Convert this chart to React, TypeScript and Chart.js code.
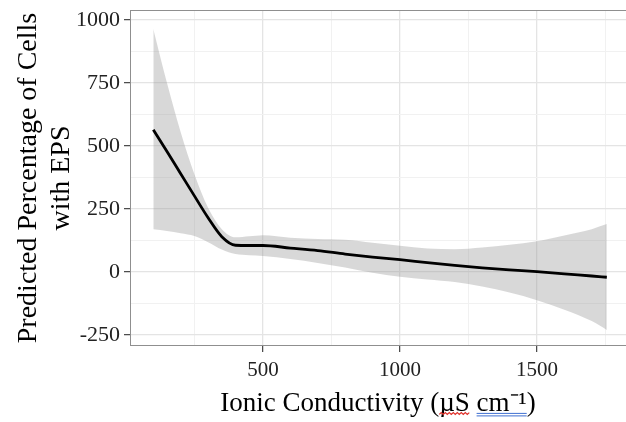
import React, { useEffect, useRef } from "react";
import { Chart, registerables } from "chart.js";

Chart.register(...registerables);

// ---- data ----
const conductivity = [100, 150, 200, 250, 300, 350, 400, 450, 500, 600, 700, 800, 900, 1000, 1100, 1200, 1300, 1400, 1500, 1600, 1700, 1755];
const fitted = [565, 478, 390, 302, 215, 140, 106, 105, 105, 95, 85, 71, 59, 49, 37, 26, 16, 8, 1, -8, -16, -21];
const upperCI = [965, 750, 555, 388, 255, 170, 138, 142, 146, 136, 131, 128, 116, 104, 93, 90, 97, 108, 122, 145, 170, 190];
const lowerCI = [170, 163, 154, 143, 118, 89, 71, 66, 63, 51, 36, 18, -3, -19, -30, -40, -58, -82, -112, -150, -195, -230];

const xTicks = [250, 500, 750, 1000, 1250, 1500, 1750];
const xMajor = [500, 1000, 1500];
const yTicks = [-250, -125, 0, 125, 250, 375, 500, 625, 750, 875, 1000];
const yMajor = [-250, 0, 250, 500, 750, 1000];

const X_TITLE = "Ionic Conductivity (µS cm⁻¹)";
const Y_TITLE = ["Predicted Percentage of Cells", "with EPS"];

const FONT = '"Liberation Serif", "Times New Roman", serif';
const X_TITLE_SIZE = 27;
const X_TITLE_LH = 1.2;
const X_TITLE_PAD_BOTTOM = 2;

const pts = (ys: number[]) => conductivity.map((x, i) => ({ x, y: ys[i] }));

const borderPlugin = {
  id: "panelBorder",
  afterDatasetsDraw(chart: any) {
    const { ctx, chartArea } = chart;
    ctx.save();
    ctx.strokeStyle = "#8f8f8f";
    ctx.lineWidth = 1;
    ctx.strokeRect(chartArea.left + 0.5, chartArea.top + 0.5, chartArea.right - chartArea.left, chartArea.bottom - chartArea.top - 1);
    ctx.restore();
  },
};

const spellMarksPlugin = {
  id: "spellMarks",
  afterDraw(chart: any) {
    const sc = chart.scales.x;
    const ctx = chart.ctx as CanvasRenderingContext2D;
    ctx.save();
    ctx.font = `${X_TITLE_SIZE}px ${FONT}`;
    ctx.textBaseline = "middle";
    const full = ctx.measureText(X_TITLE).width;
    const cx = (sc.left + sc.right) / 2;
    const start = cx - full / 2;
    const muStart = start + ctx.measureText("Ionic Conductivity (").width;
    const muEnd = muStart + ctx.measureText("µS").width;
    const cmStart = start + ctx.measureText("Ionic Conductivity (µS ").width;
    const cmEnd = cmStart + ctx.measureText("cm⁻¹").width;
    const lh = X_TITLE_SIZE * X_TITLE_LH;
    const titleY = sc.bottom - (lh / 2 + X_TITLE_PAD_BOTTOM);
    const base = titleY + ctx.measureText("I").actualBoundingBoxDescent;
    // red wavy line
    ctx.strokeStyle = "#e0302a";
    ctx.lineWidth = 1.2;
    ctx.beginPath();
    const yw = base + 3.5;
    let up = true;
    ctx.moveTo(muStart, yw);
    for (let x = muStart + 2; x <= muEnd + 0.1; x += 2) {
      ctx.lineTo(x, up ? yw - 1.8 : yw);
      up = !up;
    }
    ctx.stroke();
    // blue double underline
    ctx.strokeStyle = "#3f6fd0";
    ctx.lineWidth = 1;
    ctx.beginPath();
    ctx.moveTo(cmStart, base + 2.5);
    ctx.lineTo(cmEnd, base + 2.5);
    ctx.moveTo(cmStart, base + 5);
    ctx.lineTo(cmEnd, base + 5);
    ctx.stroke();
    ctx.restore();
  },
};

export default function App() {
  const ref = useRef<HTMLCanvasElement | null>(null);

  useEffect(() => {
    if (!ref.current) return;
    const chart = new Chart(ref.current, {
      type: "line",
      data: {
        datasets: [
          {
            label: "fit",
            data: pts(fitted),
            borderWidth: 2.8,
            borderColor: "#000000",
            pointRadius: 0,
            fill: false,
            cubicInterpolationMode: "monotone",
            order: 0,
          },
          {
            label: "upper",
            data: pts(upperCI),
            borderWidth: 0,
            borderColor: "rgba(0,0,0,0)",
            backgroundColor: "rgba(153,153,153,0.38)",
            pointRadius: 0,
            fill: "+1",
            cubicInterpolationMode: "monotone",
            order: 1,
          },
          {
            label: "lower",
            data: pts(lowerCI),
            borderWidth: 0,
            borderColor: "rgba(0,0,0,0)",
            backgroundColor: "rgba(153,153,153,0.38)",
            pointRadius: 0,
            fill: false,
            cubicInterpolationMode: "monotone",
            order: 2,
          },
        ],
      },
      options: {
        responsive: false,
        animation: false,
        layout: { padding: { top: 10, right: 0, left: 0, bottom: 0 } },
        plugins: {
          legend: { display: false },
          tooltip: { enabled: false },
        },
        scales: {
          x: {
            type: "linear",
            min: 15,
            max: 1825,
            afterBuildTicks: (scale: any) => {
              scale.ticks = xTicks.map((v) => ({ value: v }));
            },
            afterFit: (scale: any) => {
              scale.height = 76;
              scale.paddingLeft = 0;
              scale.paddingRight = 0;
            },
            ticks: {
              autoSkip: false,
              maxRotation: 0,
              padding: 6,
              color: "#222",
              font: { family: FONT, size: 21 },
              callback: (v: any) => (xMajor.includes(Number(v)) ? String(v) : ""),
            },
            grid: {
              color: (c: any) => (xMajor.includes(c.tick?.value) ? "#e4e4e4" : "#f1f1f1"),
              lineWidth: (c: any) => (xMajor.includes(c.tick?.value) ? 1.3 : 1),
              tickColor: (c: any) => (xMajor.includes(c.tick?.value) ? "#444" : "rgba(0,0,0,0)"),
              tickLength: 6,
              tickWidth: 1.2,
            },
            border: { display: false },
            title: {
              display: true,
              text: X_TITLE,
              color: "#000",
              font: { family: FONT, size: X_TITLE_SIZE, lineHeight: X_TITLE_LH },
              padding: { top: 0, bottom: X_TITLE_PAD_BOTTOM },
            },
          },
          y: {
            type: "linear",
            min: -294,
            max: 1040,
            afterBuildTicks: (scale: any) => {
              scale.ticks = yTicks.map((v) => ({ value: v }));
            },
            afterFit: (scale: any) => {
              scale.width = 130;
              scale.paddingTop = 0;
              scale.paddingBottom = 0;
            },
            ticks: {
              autoSkip: false,
              padding: 4,
              color: "#222",
              font: { family: FONT, size: 22 },
              callback: (v: any) => (yMajor.includes(Number(v)) ? String(v) : ""),
            },
            grid: {
              color: (c: any) => (yMajor.includes(c.tick?.value) ? "#e4e4e4" : "#f1f1f1"),
              lineWidth: (c: any) => (yMajor.includes(c.tick?.value) ? 1.3 : 1),
              tickColor: (c: any) => (yMajor.includes(c.tick?.value) ? "#444" : "rgba(0,0,0,0)"),
              tickLength: 6,
              tickWidth: 1.2,
            },
            border: { display: false },
            title: {
              display: true,
              text: Y_TITLE,
              color: "#000",
              font: { family: FONT, size: 28, lineHeight: 1.15 },
              padding: { top: 13, bottom: 0 },
            },
          },
        },
      } as any,
      plugins: [borderPlugin, spellMarksPlugin],
    });
    return () => chart.destroy();
  }, []);

  return (
    <div style={{ position: "fixed", left: 0, top: 0, width: 626, height: 422, background: "#fff" }}>
      <canvas ref={ref} width={626} height={422} />
    </div>
  );
}
